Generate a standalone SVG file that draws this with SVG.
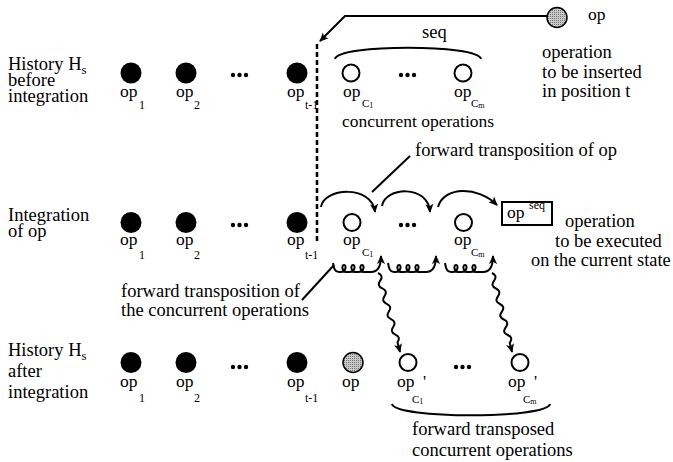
<svg xmlns="http://www.w3.org/2000/svg" width="673" height="462" viewBox="0 0 673 462">
<style>
text{font-family:"Liberation Serif","Times New Roman",serif;fill:#000}
.t{font-size:18.5px}
.op{font-size:17.5px}
.sub{font-size:12px}
.subc{font-size:11px}
.sub1{font-size:8px}
.filled{fill:#000}
.hollow{fill:#fff;stroke:#000;stroke-width:2}
.grey{fill:url(#stip);stroke:#000;stroke-width:1.5}
.ln{fill:none;stroke:#000;stroke-width:2}
.dot{fill:#000}
</style>
<defs>
<pattern id="stip" width="2" height="2" patternUnits="userSpaceOnUse"><rect width="2" height="2" fill="#c8c8c8"/><rect width="1" height="1" fill="#777"/></pattern>
<marker id="ah" viewBox="0 0 10 10" refX="9" refY="5" markerWidth="9" markerHeight="9" markerUnits="userSpaceOnUse" orient="auto"><path d="M0,0.5 L10,5 L0,9.5 L2.5,5 z" fill="#000"/></marker>
<g id="dots"><circle cx="0" cy="0" r="2.2"/><circle cx="6.5" cy="0" r="2.2"/><circle cx="13" cy="0" r="2.2"/></g>
</defs>
<rect width="673" height="462" fill="#fff"/>

<!-- left labels -->
<g id="label-before">
<text class="t" x="8" y="70">History H<tspan font-size="13" dy="4">s</tspan></text>
<text class="t" x="8" y="86">before</text>
<text class="t" x="8" y="102">integration</text>
</g>
<g id="label-integration">
<text class="t" x="8" y="221">Integration</text>
<text class="t" x="8" y="237">of op</text>
</g>
<g id="label-after">
<text class="t" x="8" y="356">History H<tspan font-size="13" dy="4">s</tspan></text>
<text class="t" x="8" y="377">after</text>
<text class="t" x="8" y="398">integration</text>
</g>

<!-- row 1 -->
<g id="r1-op1"><circle class="filled" cx="131" cy="73" r="10.5"/><text class="op" x="120" y="97">op</text><text class="sub" x="139" y="109">1</text></g>
<g id="r1-op2"><circle class="filled" cx="186" cy="73" r="10.5"/><text class="op" x="176" y="97">op</text><text class="sub" x="194" y="109">2</text></g>
<use href="#dots" x="233" y="75" class="dot"/>
<g id="r1-opt1"><circle class="filled" cx="297" cy="73" r="10.5"/><text class="op" x="287" y="97">op</text><text class="sub" x="305" y="109">t-1</text></g>
<g id="r1-opc1"><circle class="hollow" cx="351" cy="73" r="8.5"/><text class="op" x="343" y="97">op</text><text class="subc" x="362" y="107">C<tspan class="sub1" dy="1">1</tspan></text></g>
<use href="#dots" x="401" y="75" class="dot"/>
<g id="r1-opcm"><circle class="hollow" cx="463" cy="73" r="8.5"/><text class="op" x="454" y="97">op</text><text class="subc" x="471" y="107">C<tspan class="sub1" dy="1">m</tspan></text></g>
<g id="brace-seq"><path class="ln" d="M335,59 C338,44 478,44 481,59"/><text class="t" x="422" y="38">seq</text></g>
<text class="t" x="342" y="127" style="font-size:17.5px">concurrent operations</text>
<g id="op-new"><circle class="grey" cx="557" cy="17.5" r="10"/><text class="op" x="588" y="20">op</text></g>
<g id="note-inserted">
<text class="t" x="542" y="58">operation</text>
<text class="t" x="542" y="77.5">to be inserted</text>
<text class="t" x="542" y="97">in position t</text>
</g>

<!-- row 2 -->
<g id="r2-op1"><circle class="filled" cx="131" cy="222.5" r="10.5"/><text class="op" x="120" y="245">op</text><text class="sub" x="139" y="259">1</text></g>
<g id="r2-op2"><circle class="filled" cx="186" cy="222.5" r="10.5"/><text class="op" x="176" y="245">op</text><text class="sub" x="194" y="259">2</text></g>
<use href="#dots" x="233" y="225" class="dot"/>
<g id="r2-opt1"><circle class="filled" cx="297" cy="222.5" r="10.5"/><text class="op" x="287" y="245">op</text><text class="sub" x="305" y="259">t-1</text></g>
<g id="r2-opc1"><circle class="hollow" cx="352" cy="222.5" r="8.5"/><text class="op" x="343" y="245">op</text><text class="subc" x="362" y="256">C<tspan class="sub1" dy="1">1</tspan></text></g>
<use href="#dots" x="401" y="225" class="dot"/>
<g id="r2-opcm"><circle class="hollow" cx="463.5" cy="222.5" r="8.5"/><text class="op" x="454" y="245">op</text><text class="subc" x="471" y="256">C<tspan class="sub1" dy="1">m</tspan></text></g>
<g id="opseq"><rect x="502" y="202" width="50" height="23" fill="#fff" stroke="#000" stroke-width="2"/><text class="op" x="507" y="218">op</text><text class="sub" x="529" y="209">seq</text></g>
<g id="note-executed">
<text class="t" x="565" y="227">operation</text>
<text class="t" x="555" y="247">to be executed</text>
<text class="t" x="531" y="266" style="font-size:18.3px">on the current state</text>
</g>
<text class="t" x="415" y="156">forward transposition of op</text>
<text class="t" x="121" y="297">forward transposition of</text>
<text class="t" x="121" y="316">the concurrent operations</text>

<!-- row 3 -->
<g id="r3-op1"><circle class="filled" cx="131" cy="362.5" r="10.5"/><text class="op" x="120" y="387">op</text><text class="sub" x="139" y="402">1</text></g>
<g id="r3-op2"><circle class="filled" cx="186" cy="362.5" r="10.5"/><text class="op" x="176" y="387">op</text><text class="sub" x="194" y="402">2</text></g>
<use href="#dots" x="233" y="367" class="dot"/>
<g id="r3-opt1"><circle class="filled" cx="297" cy="362.5" r="10.5"/><text class="op" x="287" y="387">op</text><text class="sub" x="305" y="402">t-1</text></g>
<g id="r3-op"><circle class="grey" cx="353" cy="362.5" r="10"/><text class="op" x="342" y="387">op</text></g>
<g id="r3-opc1"><circle class="hollow" cx="408" cy="362.5" r="8.5"/><text class="op" x="397" y="387">op</text><text class="op" x="423" y="387">'</text><text class="subc" x="412" y="403">C<tspan class="sub1" dy="1">1</tspan></text></g>
<use href="#dots" x="456" y="367" class="dot"/>
<g id="r3-opcm"><circle class="hollow" cx="520" cy="362.5" r="8.5"/><text class="op" x="508" y="387">op</text><text class="op" x="534" y="387">'</text><text class="subc" x="523" y="403">C<tspan class="sub1" dy="1">m</tspan></text></g>
<g id="brace-transposed"><path class="ln" d="M392,404 C395,419 547,419 550,404"/>
<text class="t" x="412" y="435">forward transposed</text>
<text class="t" x="412" y="456">concurrent operations</text></g>

<!-- connectors -->
<g id="connectors">
<line x1="317" y1="44" x2="317" y2="243" stroke="#000" stroke-width="2.5" stroke-dasharray="5 3"/>
<path class="ln" d="M547,16 L345,16 L320,41" marker-end="url(#ah)"/>
<line class="ln" x1="372" y1="192" x2="410" y2="156"/>
<line class="ln" x1="334" y1="265" x2="302" y2="300"/>
<path class="ln" d="M321,207 C323,188 372,184 375,212" marker-end="url(#ah)"/>
<path class="ln" d="M382,206 C385,187 428,184 430,212" marker-end="url(#ah)"/>
<path class="ln" d="M438,207 C444,186 478,186 497,205" marker-end="url(#ah)"/>
<path class="ln" stroke-width="1.8" d="M333,263 C334,269 335,272 339,272 C346,273 347,265 344,265 C341,265 342,273 348,272 C355,273 356,265 353,265 C350,265 351,273 357,272 C364,273 365,265 362,265 C359,265 360,273 366,272 L371,272 C378,272 381,266 381,256" marker-end="url(#ah)"/>
<path class="ln" stroke-width="1.8" d="M388,263 C389,269 390,272 394,272 C401,273 402,265 399,265 C396,265 397,273 403,272 C410,273 411,265 408,265 C405,265 406,273 412,272 C419,273 420,265 417,265 C414,265 415,273 421,272 L426,272 C433,272 436,266 436,256" marker-end="url(#ah)"/>
<path class="ln" stroke-width="1.8" d="M445,263 C446,269 447,272 451,272 C458,273 459,265 456,265 C453,265 454,273 460,272 C467,273 468,265 465,265 C462,265 463,273 469,272 C476,273 477,265 474,265 C471,265 472,273 478,272 L483,272 C490,272 493,266 493,256" marker-end="url(#ah)"/>
<path class="ln" stroke-width="1.8" d="M378,273 Q383.9,275.5 380.2,280.7 T382.3,288.4 T384.5,296.1 T386.7,303.8 T388.9,311.5 T391,319.2 T393.2,326.9 T395.4,334.6 T397.5,342.3 L400,352" marker-end="url(#ah)"/>
<path class="ln" stroke-width="1.8" d="M492,273 Q497.8,275.7 494,280.8 T495.9,288.5 T497.9,296.3 T499.9,304 T501.8,311.8 T503.8,319.5 T505.7,327.3 T507.7,335 T509.7,342.8 L512,352" marker-end="url(#ah)"/>
</g>
</svg>
